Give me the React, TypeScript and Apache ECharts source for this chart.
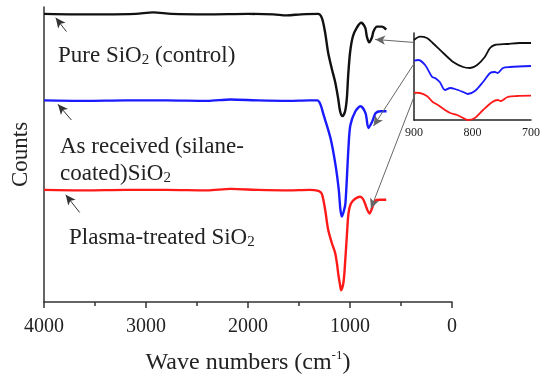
import React, { useEffect, useRef } from "react";
import * as echarts from "echarts";

const FONT = "'Liberation Serif', 'Times New Roman', serif";

const xTickValues = [4000, 3000, 2000, 1000, 0];
const insetTickValues = [900, 800, 700];

const pureWave = [4000, 3700, 3400, 3100, 2930, 2750, 2400, 2000, 1750, 1620, 1480, 1313, 1276, 1244, 1215, 1178, 1146, 1116, 1097, 1074, 1048, 1031, 1018, 999, 972, 933, 891, 851, 835, 812, 785, 770, 736, 687, 645];
const pureCounts = [293, 292.5, 292.5, 293, 294.5, 293, 292.5, 293, 292.5, 291.5, 292.5, 293, 289, 274, 254, 237, 224, 207, 194, 189, 194, 207, 230, 254, 270, 279, 284, 279, 270, 264, 269, 275, 280, 280, 277];

const silaneWave = [4000, 3600, 3200, 2800, 2400, 2170, 1900, 1600, 1400, 1320, 1290, 1258, 1192, 1143, 1110, 1094, 1079, 1062, 1045, 1015, 996, 947, 897, 848, 819, 780, 750, 701, 642];
const silaneCounts = [205, 204.5, 205, 205, 204.5, 206, 205, 204.5, 205, 205, 201, 190, 167, 140, 114, 94, 87, 92, 100, 157, 180, 194, 199, 192, 177, 184, 192, 194, 194];

const plasmaWave = [4000, 3600, 3200, 2800, 2400, 2170, 1900, 1600, 1400, 1310, 1276, 1244, 1215, 1178, 1146, 1129, 1113, 1097, 1087, 1064, 1048, 1031, 1015, 992, 949, 900, 868, 835, 809, 785, 753, 704, 645];
const plasmaCounts = [114, 113.5, 114, 114, 113.5, 115, 114, 113.5, 114, 113, 110, 94, 74, 60, 50, 40, 27, 17, 12, 20, 40, 67, 90, 100, 105, 107, 104, 95, 90, 95, 103, 104, 104];

const insetPureWave = [900, 890, 878, 868, 850, 833, 816, 804, 792, 779, 770, 762, 741, 719, 700];
const insetPureCounts = [80, 83.3, 82, 77, 67, 58, 53, 52, 55, 63, 72, 75, 76, 77, 77];

const insetSilaneWave = [900, 893, 881, 869, 864, 856, 847, 838, 830, 816, 808, 796, 782, 770, 762, 757, 748, 736, 700];
const insetSilaneCounts = [59.3, 60, 55, 43, 42, 38, 30, 32, 31, 28, 26, 29, 38, 47, 48, 47, 52, 53, 54];

const insetPlasmaWave = [900, 890, 878, 868, 859, 847, 838, 826, 816, 808, 796, 782, 766, 757, 752, 740, 724, 700];
const insetPlasmaCounts = [27.3, 27, 24, 18, 15, 10, 7, 5, 2, 0, 2, 10, 18, 20, 19, 23, 24, 24.3];

// annotation arrows in main-axis data coordinates: [fromWave, fromCount, toWave, toCount]
const labelArrows = [
  [3780, 275, 3885, 289],
  [3731, 185, 3863, 201],
  [3650, 91, 3787, 109],
];
const insetArrows = [
  [380, 264, 753, 267],
  [375, 242, 769, 179],
  [360, 212, 795, 95],
];

const zip = (w: number[], c: number[]) => w.map((v, i) => [v, c[i]]);

export default function App() {
  const ref = useRef<HTMLDivElement>(null);
  useEffect(() => {
    if (!ref.current) return;
    const chart = echarts.init(ref.current, null, { renderer: "svg" });
    const textColor = "#222";
    const rich = {
      a: { fontSize: 23, fontFamily: FONT, fill: textColor, lineHeight: 25 },
      s: { fontSize: 15, fontFamily: FONT, fill: textColor, lineHeight: 12, verticalAlign: "bottom" },
    };
    const label = (text: string, x: number, y: number) => ({
      type: "text",
      x,
      y,
      silent: true,
      style: { text, rich, textVerticalAlign: "middle", textAlign: "left", fill: textColor },
    });
    const arrowLine = (arr: number[][], color: string, width: number) => ({
      silent: true,
      symbol: ["none", "arrow"],
      symbolSize: [7, 10],
      label: { show: false },
      lineStyle: { color, width, type: "solid" },
      emphasis: { disabled: true },
      animation: false,
      data: arr.map((a) => [{ coord: [a[0], a[1]] }, { coord: [a[2], a[3]] }]),
    });
    const mainSeries = (name: string, w: number[], c: number[], color: string, extra: any = {}) => ({
      name,
      type: "line",
      xAxisIndex: 0,
      yAxisIndex: 0,
      data: zip(w, c),
      showSymbol: false,
      smooth: 0.3,
      lineStyle: { color, width: 2.4 },
      itemStyle: { color },
      ...extra,
    });
    const insetSeries = (name: string, w: number[], c: number[], color: string) => ({
      name,
      type: "line",
      xAxisIndex: 1,
      yAxisIndex: 1,
      data: zip(w, c),
      showSymbol: false,
      smooth: 0.3,
      lineStyle: { color, width: 1.8 },
      itemStyle: { color },
    });
    chart.setOption({
      animation: false,
      grid: [
        { left: 44, right: 95, top: 7, bottom: 71 },
        { left: 414, right: 16, top: 33, bottom: 258 },
      ],
      xAxis: [
        {
          type: "value",
          gridIndex: 0,
          min: 0,
          max: 4000,
          interval: 1000,
          inverse: true,
          axisLine: { show: true, onZero: false, lineStyle: { color: "#333", width: 1.5 } },
          axisTick: { show: true, length: 6, lineStyle: { color: "#333", width: 1.5 } },
          minorTick: { show: true, splitNumber: 2, length: 4, lineStyle: { color: "#333", width: 1.5 } },
          splitLine: { show: false },
          axisLabel: {
            fontSize: 20,
            fontFamily: FONT,
            color: textColor,
            margin: 13,
            showMinLabel: true,
            showMaxLabel: true,
            formatter: (v: number) => (xTickValues.includes(v) ? String(v) : ""),
          },
          name: "{t|Wave numbers (cm}{s|-1}{t|)}",
          nameLocation: "middle",
          nameGap: 46,
          nameTextStyle: {
            rich: {
              t: { fontSize: 24, fontFamily: FONT, color: textColor, lineHeight: 26 },
              s: { fontSize: 13, fontFamily: FONT, color: textColor, lineHeight: 12, verticalAlign: "top" },
            },
          },
        },
        {
          type: "value",
          gridIndex: 1,
          min: 700,
          max: 900,
          interval: 100,
          inverse: true,
          axisLine: { show: true, onZero: false, lineStyle: { color: "#222", width: 1.5 } },
          axisTick: { show: false },
          splitLine: { show: false },
          axisLabel: {
            fontSize: 12,
            fontFamily: FONT,
            color: textColor,
            margin: 6,
            showMinLabel: true,
            showMaxLabel: true,
            formatter: (v: number) => (insetTickValues.includes(v) ? String(v) : ""),
          },
        },
      ],
      yAxis: [
        {
          type: "value",
          gridIndex: 0,
          min: 0,
          max: 300,
          axisLine: { show: true, onZero: false, lineStyle: { color: "#333", width: 1.5 } },
          axisTick: { show: false },
          axisLabel: { show: false },
          splitLine: { show: false },
          name: "Counts",
          nameLocation: "middle",
          nameRotate: 90,
          nameGap: 13,
          nameTextStyle: { fontSize: 23, fontFamily: FONT, color: textColor },
        },
        {
          type: "value",
          gridIndex: 1,
          min: 0,
          max: 87,
          axisLine: { show: true, onZero: false, lineStyle: { color: "#222", width: 1.5 } },
          axisTick: { show: false },
          axisLabel: { show: false },
          splitLine: { show: false },
        },
      ],
      series: [
        mainSeries("Pure SiO2 (control)", pureWave, pureCounts, "#111111", {
          markLine: arrowLine(insetArrows, "#666", 1),
        }),
        mainSeries("As received (silane-coated)SiO2", silaneWave, silaneCounts, "#1a1aff", {
          markLine: arrowLine(labelArrows, "#333", 1),
        }),
        mainSeries("Plasma-treated SiO2", plasmaWave, plasmaCounts, "#ff1a1a"),
        insetSeries("Pure inset", insetPureWave, insetPureCounts, "#111111"),
        insetSeries("Silane inset", insetSilaneWave, insetSilaneCounts, "#1a1aff"),
        insetSeries("Plasma inset", insetPlasmaWave, insetPlasmaCounts, "#ff1a1a"),
      ],
      graphic: [
        label("{a|Pure SiO}{s|2}{a| (control)}", 58, 54),
        label("{a|As received (silane-}", 60, 145),
        label("{a|coated)SiO}{s|2}", 60, 172),
        label("{a|Plasma-treated SiO}{s|2}", 69, 236),
      ],
    });
    return () => chart.dispose();
  }, []);
  return <div ref={ref} style={{ position: "fixed", left: 0, top: 0, width: 547, height: 378 }} />;
}
